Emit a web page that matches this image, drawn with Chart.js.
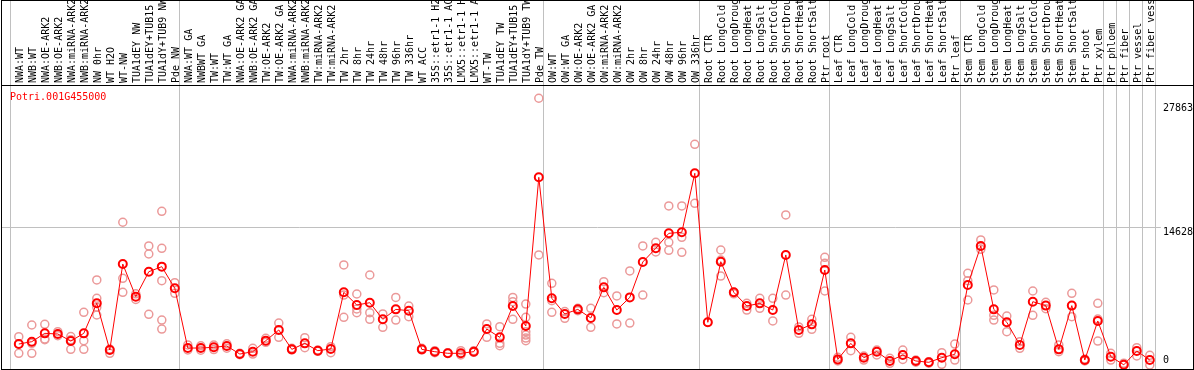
<!DOCTYPE html>
<html lang="en">
<head>
<meta charset="UTF-8">
<title>Potri.001G455000</title>
<script src="https://cdn.jsdelivr.net/npm/chart.js"></script>
<style>
  body { margin: 0; background: #fff; }
  #frame { position: absolute; left: 1px; top: 0; width: 1191px; height: 368px; border: 1px solid #000; }
  #gene { position: absolute; left: 8px; top: 90px; font: 10px "DejaVu Sans Mono", monospace; line-height: 12px; color: #f00; }
</style>
</head>
<body>
<div id="frame">
  <canvas id="expr" width="1191" height="368"></canvas>
  <div id="gene">Potri.001G455000</div>
</div>

<script>
const categories = [
  'NWA:WT', 'NWB:WT', 'NWA:OE-ARK2', 'NWB:OE-ARK2', 'NWA:miRNA-ARK2', 'NWB:miRNA-ARK2',
  'NW 0hr', 'WT H2O', 'WT-NW', 'TUA1dEY NW', 'TUA1dEY+TUB15 NW', 'TUA1dY+TUB9 NW', 'Pde NW',
  'NWA:WT GA', 'NWBWT GA', 'TW:WT', 'TW:WT GA', 'NWA:OE-ARK2 GA', 'NWB:OE-ARK2 GA',
  'TW:OE-ARK2', 'TW:OE-ARK2 GA', 'NWA:miRNA-ARK2', 'NWB:miRNA-ARK2', 'TW:miRNA-ARK2', 'TW:miRNA-ARK2',
  'TW 2hr', 'TW 8hr', 'TW 24hr', 'TW 48hr', 'TW 96hr', 'TW 336hr', 'WT ACC',
  '35S::etr1-1 H2O', '35S::etr1-1 ACC', 'LMX5::etr1-1 H2O', 'LMX5::etr1-1 ACC',
  'WT-TW', 'TUA1dEY TW', 'TUA1dEY+TUB15 TW', 'TUA1dY+TUB9 TW', 'Pde TW',
  'OW:WT', 'OW:WT GA', 'OW:OE-ARK2', 'OW:OE-ARK2 GA', 'OW:miRNA-ARK2', 'OW:miRNA-ARK2',
  'OW 2hr', 'OW 8hr', 'OW 24hr', 'OW 48hr', 'OW 96hr', 'OW 336hr',
  'Root CTR', 'Root LongCold', 'Root LongDrought', 'Root LongHeat', 'Root LongSalt',
  'Root ShortCold', 'Root ShortDrought', 'Root ShortHeat', 'Root ShortSalt', 'Ptr root',
  'Leaf CTR', 'Leaf LongCold', 'Leaf LongDrought', 'Leaf LongHeat', 'Leaf LongSalt',
  'Leaf ShortCold', 'Leaf ShortDrought', 'Leaf ShortHeat', 'Leaf ShortSalt', 'Ptr leaf',
  'Stem CTR', 'Stem LongCold', 'Stem LongDrought', 'Stem LongHeat', 'Stem LongSalt',
  'Stem ShortCold', 'Stem ShortDrought', 'Stem ShortHeat', 'Stem ShortSalt', 'Ptr shoot',
  'Ptr xylem', 'Ptr phloem', 'Ptr fiber', 'Ptr vessel', 'Ptr fiber vessel'
];

// mean expression per sample group (line)
const means = [
  2240, 2490, 3380, 3310, 2560, 3380, 6590, 1600, 10780, 7300, 9960, 10500, 8190,
  1810, 1815, 1890, 2030, 1170, 1420, 2600, 3740, 1670, 2310, 1530, 1710,
  7760, 6410, 6650, 4880, 5940, 5800, 1670, 1420, 1250, 1250, 1420,
  3840, 2950, 6300, 4160, 20040,
  7120, 5450, 5940, 5020, 8290, 5870, 7220, 11000, 12460, 14060, 14170, 20470,
  4560, 11030, 7760, 6300, 6580, 5870, 11750, 3740, 4340, 10140,
  600, 2310, 780, 1420, 430, 1070, 430, 290, 780, 1140,
  8540, 12710, 5940, 4560, 2140, 6760, 6340, 1670, 6340, 530, 4700,
  890, 20, 1500, 530
];

// individual replicates per sample group (light circles)
const replicates = [
  [3020, 1250, 2240], [4270, 2310, 1250], [4340, 2780, 2700], [3560, 3130], [3030, 1670, 2700],
  [5620, 2600, 1670], [9080, 7120, 6160, 5340], [1700, 1250], [15240, 9250, 7760], [7000, 7600],
  [12710, 11850, 5410], [16410, 12460, 9000, 4800, 3840], [8790, 7650],
  [2140, 1600], [2050, 1580], [2130, 1650], [2260, 1800], [1100, 1250], [1780, 1170],
  [2850, 2420], [4480, 2950], [1780, 1600], [2920, 1850], [1600, 1460], [1960, 1320],
  [10680, 7470, 5090], [7580, 5980, 5590], [9610, 5590, 4880], [5450, 4020], [7220, 4800],
  [6300, 5160], [1780, 1600], [1530, 1320], [1250, 1320], [1530, 1070], [1530, 1350],
  [4380, 2950], [4090, 2310, 2060], [7220, 6760, 4880], [6510, 5090, 3560, 3200, 2880, 2600],
  [28480, 11750],
  [8720, 6870, 5620], [5700, 4980], [6050, 5800], [6050, 4020], [8900, 7720], [7370, 4380],
  [10040, 4480], [12710, 7470], [13100, 12070], [16980, 13100, 12240], [16980, 13630, 12030],
  [23560, 17260],
  [4560], [12280, 11200, 9500], [7760, 7600], [6580, 5870], [7120, 6050], [7120, 4700],
  [16020, 7470], [4060, 3380], [4880, 3810], [11500, 10860, 7900],
  [820, 430], [2950, 1530], [960, 530], [1070, 1600], [710, 180], [1600, 600], [530, 300],
  [200, 360], [1320, 70], [2240, 530],
  [9790, 9000, 6940], [13350, 12350], [8010, 5300, 4800], [5230, 3560], [2490, 1780],
  [7900, 5300], [6690, 6010], [2140, 1420], [7650, 5160], [640, 430], [6580, 4910, 2560],
  [1250, 530], [200, 60], [1850, 960], [1030, 0]
];

const yTicks = [0, 14628, 27863];
const gridValue = 14628;
// first index of each sample block (a grey separator is drawn before it)
const groupStarts = [0, 13, 41, 53, 63, 73, 84, 85, 86, 87, 88];

// top axis ticks: a labelled one at each sample, an unlabelled one at each boundary
const sepShift = 0.6;
const xTicks = [];
categories.forEach((c, i) => {
  xTicks.push({ value: i - sepShift, label: '', sep: groupStarts.includes(i) });
  xTicks.push({ value: i, label: c, sep: false });
});
xTicks.push({ value: categories.length - sepShift, label: '', sep: true });

const mono = { family: '"DejaVu Sans Mono", monospace', size: 10 };

// keep the plot area flush with the canvas: drop the padding Chart.js adds for edge labels
function noEdgePadding(s) {
  s.paddingLeft = 0;
  s.paddingRight = 0;
  s.paddingTop = 0;
  s.paddingBottom = 0;
}

new Chart(document.getElementById('expr'), {
  type: 'line',
  data: {
    datasets: [
      {
        label: 'mean',
        data: means.map((v, i) => ({ x: i, y: v })),
        borderColor: '#ff0000',
        borderWidth: 1,
        pointRadius: 4,
        pointBorderWidth: 2,
        pointBorderColor: '#ff0000',
        pointBackgroundColor: 'rgba(0,0,0,0)',
        order: 0
      },
      {
        label: 'replicates',
        data: replicates.flatMap((r, i) => r.map(v => ({ x: i, y: v }))),
        showLine: false,
        pointRadius: 4,
        pointBorderWidth: 1.5,
        pointBorderColor: '#eb9999',
        pointBackgroundColor: 'rgba(0,0,0,0)',
        order: 1
      }
    ]
  },
  options: {
    responsive: false,
    animation: false,
    events: [],
    layout: { padding: 0, autoPadding: false },
    plugins: { legend: { display: false }, tooltip: { enabled: false } },
    scales: {
      x: {
        type: 'linear',
        position: 'top',
        bounds: 'data',
        min: -1.292,
        max: 90.323,
        afterBuildTicks: s => { s.ticks = xTicks.map(t => ({ value: t.value })); },
        afterFit: s => { s.height = 84; noEdgePadding(s); },
        grid: {
          color: ctx => (xTicks[ctx.index] && xTicks[ctx.index].sep) ? '#c0c0c0' : 'rgba(0,0,0,0)',
          lineWidth: 1,
          drawTicks: true,
          tickLength: 84
        },
        border: { display: true, color: '#000', width: 1 },
        ticks: {
          autoSkip: false,
          minRotation: 90,
          maxRotation: 90,
          padding: -82,
          labelOffset: 14,
          color: '#000',
          font: mono,
          callback: (v, i) => xTicks[i].label
        }
      },
      y: {
        position: 'right',
        min: -427,
        max: 29896,
        afterBuildTicks: s => { s.ticks = yTicks.map(v => ({ value: v })); },
        afterFit: s => { s.width = 0; noEdgePadding(s); },
        grid: {
          color: ctx => (ctx.tick && ctx.tick.value === gridValue) ? '#c0c0c0' : 'rgba(0,0,0,0)',
          drawTicks: false
        },
        border: { display: false },
        ticks: {
          autoSkip: false,
          mirror: true,
          crossAlign: 'far',
          padding: 0,
          // white box only behind the gridline label, so the line stops where the text starts
          showLabelBackdrop: ctx => ctx.tick && ctx.tick.value === gridValue,
          backdropColor: '#fff',
          backdropPadding: { left: 2, right: 0, top: 0, bottom: 0 },
          color: '#000',
          font: { family: mono.family, size: 10, lineHeight: '9px' },
          // 0 sits above its value line, the others hang below theirs
          callback: v => v === 0 ? ['0', ''] : ['', String(v)]
        }
      }
    }
  }
});
</script>
</body>
</html>
